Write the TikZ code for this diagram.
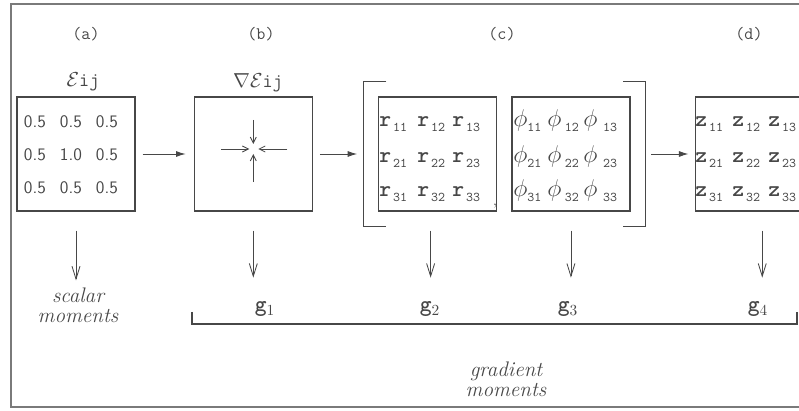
\documentclass[tikz,border=0pt]{standalone}
\usepackage{amsmath,amssymb}
\usetikzlibrary{arrows.meta,positioning,fit,calc}

\definecolor{inkgray}{HTML}{474747}
\definecolor{framegray}{HTML}{7A7A7A}
\newcommand{\mel}[2]{{\fontsize{16}{16}\selectfont\ttfamily\bfseries #1}\kern1.5pt\raisebox{-3.5pt}{\fontsize{9.5}{9.5}\selectfont\ttfamily #2}}
\newcommand{\phel}[2][0pt]{{\fontsize{16}{16}\selectfont$\phi$}\hspace{#1}\raisebox{-3.5pt}{\fontsize{9.5}{9.5}\selectfont\ttfamily #2}}

\begin{document}
\begin{tikzpicture}[
                    x=0.025cm, y=-0.025cm,
                    every node/.style={text=inkgray},
                    mbox/.style={draw=inkgray, line width=0.9pt, minimum width=2.95cm, minimum height=2.85cm, inner sep=0pt},
                    lbl/.style={font=\fontsize{12.5}{14}\selectfont\ttfamily},
                    num/.style={font=\fontsize{12.5}{13}\selectfont\sffamily},
                    ent/.style={anchor=base west, inner sep=0pt},
                    moments/.style={font=\fontsize{15}{14}\selectfont\itshape, align=center, inner sep=0pt},
                    glab/.style={font=\fontsize{16}{16}\selectfont\ttfamily\bfseries, inner sep=0pt, anchor=base},
                    flow/.style={-{Latex[length=2.4mm,width=1.5mm]}, line width=0.7pt, draw=inkgray},
                    downarr/.style={-{Straight Barb[length=3.2mm,width=2mm]}, line width=0.6pt, draw=inkgray},
                    crossarr/.style={-{Straight Barb[length=1.5mm,width=1.5mm]}, line width=0.6pt, draw=inkgray}
                ]
                    \useasboundingbox (0,0) rectangle (799,411);
                    \clip (0,0) rectangle (799,411);
                    \draw[framegray, line width=1.2pt] (805,4) -- (11,4) -- (11,407) -- (805,407);

                    \node[mbox] (a) at (76,154) {};
                    \node[mbox, right=1.45cm of a] (b) {};
                    \node[mbox, right=1.625cm of b] (r) {};
                    \node[mbox, right=0.35cm of r] (phi) {};
                    \node[mbox, right=1.6cm of phi, minimum width=3.35cm] (d) {};
                    \node[fit=(r)(phi), inner xsep=0.36cm, inner ysep=0.36cm] (pair) {};

                    \node[lbl] (la) at (86,34) {(a)};
                    \node[lbl] (lb) at (261,34) {(b)};
                    \node[lbl] (lc) at (502,34) {(c)};
                    \node[lbl] (ld) at (749,34) {(d)};
                    \node[font=\fontsize{14}{15}\selectfont] (eps) at (83,82) {$\mathcal{E}$\texttt{ij}};
                    \node[font=\fontsize{14}{15}\selectfont] (grad-eps) at (258,83) {$\nabla\mathcal{E}$\texttt{ij}};

                    \foreach \row/\y in {1/122,2/155,3/188}
                        \foreach \col/\x in {1/35,2/71,3/107}
                            \node[num] (a-\row-\col) at (\x,\y) {\ifnum\row\col=22 1.0\else 0.5\fi};
                    \foreach \row/\y in {1/127,2/163,3/197}
                        \foreach \col/\x in {1/379,2/417,3/452}
                            \node[ent] (r-\row-\col) at (\x,\y) {\mel{r}{\row\col}};
                    \foreach \row/\y in {1/127,2/163,3/197}
                        \foreach \col/\x/\gap in {1/513/0pt,2/547/2.5pt,3/583/4pt}
                            \node[ent] (phi-\row-\col) at (\x,\y) {\phel[\gap]{\row\col}};
                    \foreach \row/\y in {1/127,2/163,3/197}
                        \foreach \col/\x in {1/695,2/732,3/768}
                            \node[ent] (z-\row-\col) at (\x,\y) {\mel{z}{\row\col}};
                    \node[font=\fontsize{10}{10}\selectfont] (comma) at (495,206) {,};

                    \coordinate (bc) at ([yshift=0.125cm]b.center);
                    \draw[crossarr] ([xshift=-0.8cm]bc) -- ([xshift=-0.1cm]bc);
                    \draw[crossarr] ([xshift=0.85cm]bc) -- ([xshift=0.125cm]bc);
                    \draw[crossarr] ([yshift=0.725cm]bc) -- ([yshift=0.125cm]bc);
                    \draw[crossarr] ([yshift=-0.825cm]bc) -- ([yshift=-0.125cm]bc);

                    \draw[inkgray, line width=0.9pt] ([xshift=0.575cm]pair.north west) -- (pair.north west) -- (pair.south west) -- ([xshift=0.575cm]pair.south west);
                    \draw[inkgray, line width=0.9pt] ([xshift=-0.55cm]pair.north east) -- (pair.north east) -- (pair.south east) -- ([xshift=-0.55cm]pair.south east);

                    \draw[flow, shorten <=0.175cm, shorten >=0.2cm] (a) -- (b);
                    \draw[flow, shorten <=0.175cm, shorten >=0.15cm] (b) -- (pair);
                    \draw[flow, shorten <=0.15cm, shorten >=0.15cm] (pair) -- (d);

                    \node[moments] (scalar) at (78,305) {scalar\\moments};
                    \node[glab] (g1) at (265,312) {g$_1$};
                    \node[glab] (g2) at (430,312) {g$_2$};
                    \node[glab] (g3) at (568,312) {g$_3$};
                    \node[glab] (g4) at (758,312) {g$_4$};
                    \node[moments] (gradient) at (506,379) {gradient\\moments};

                    \draw[downarr, shorten <=0.475cm, shorten >=0.175cm] (a.south) -- (a.south |- scalar.north);
                    \draw[downarr, shorten <=0.475cm, shorten >=0.6cm] (b.south) -- (b.south |- g1.north);
                    \draw[downarr, shorten <=0.475cm, shorten >=0.6cm] ([xshift=-0.175cm]r.south) -- ([xshift=-0.175cm]r.south |- g2.north);
                    \draw[downarr, shorten <=0.475cm, shorten >=0.6cm] (phi.south) -- (phi.south |- g3.north);
                    \draw[downarr, shorten <=0.475cm, shorten >=0.6cm] (d.south) -- (d.south |- g4.north);

                    \coordinate (gbl) at (192,324);
                    \coordinate (gbr) at (797,324);
                    \draw[inkgray, line width=0.8pt] ([yshift=0.3cm]gbl) -- (gbl) -- (gbr) -- ([yshift=0.3cm]gbr);
                \end{tikzpicture}
\end{document}
